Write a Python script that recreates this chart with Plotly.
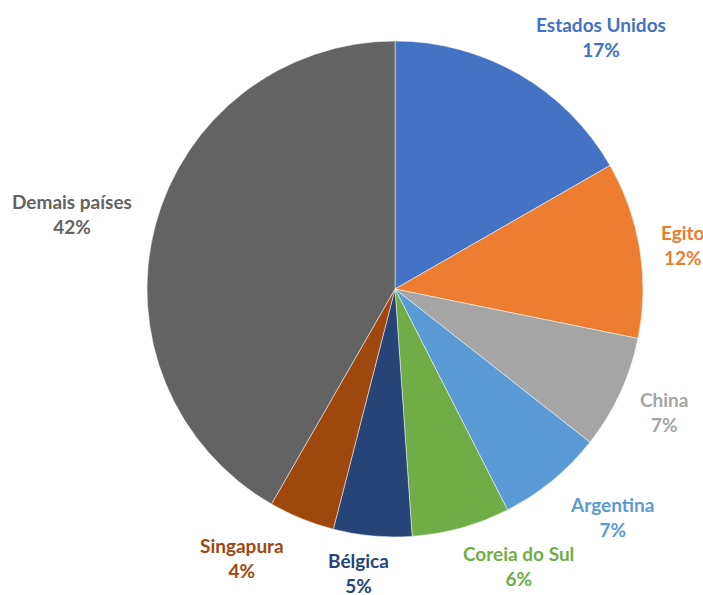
import plotly.graph_objects as go

countries = ["Estados Unidos", "Egito", "China", "Argentina", "Coreia do Sul",
             "Bélgica", "Singapura", "Demais países"]
shares = [16.7, 11.5, 7.4, 6.9, 6.4, 5.1, 4.3, 41.7]
colors = ["#4472C4", "#ED7D31", "#A5A5A5", "#5B9BD5", "#70AD47",
          "#264478", "#9E480E", "#636363"]

# label centres in pixels (x from left, y from top)
label_px = [(601, 37), (683, 245), (664, 412), (612, 517), (518, 566),
            (358, 573), (242, 558), (72, 214)]

W, H = 703, 595
cx, cy, r = 395, 289, 248

total = sum(shares)
fig = go.Figure(go.Pie(
    labels=countries,
    values=shares,
    sort=False,
    direction="clockwise",
    rotation=0,
    marker=dict(colors=colors, line=dict(color="white", width=0.5)),
    textinfo="none",
    showlegend=False,
    hoverinfo="label+percent",
    domain=dict(x=[(cx - r) / W, (cx + r) / W],
                y=[(H - cy - r) / H, (H - cy + r) / H]),
))

for name, val, col, (lx, ly) in zip(countries, shares, colors, label_px):
    fig.add_annotation(
        x=lx / W, y=1 - ly / H, xref="paper", yref="paper",
        xanchor="center", yanchor="middle",
        text=f"<b>{name}<br>{round(val / total * 100):d}%</b>",
        showarrow=False, align="center",
        font=dict(family="Lato", size=19, color=col),
    )

fig.update_layout(
    width=W, height=H,
    margin=dict(l=0, r=0, t=0, b=0),
    paper_bgcolor="white",
    plot_bgcolor="white",
)

fig.write_html(
    "out.html",
    config={"displayModeBar": False},
    post_script="document.body.style.margin='0';document.body.style.overflow='hidden';",
)
